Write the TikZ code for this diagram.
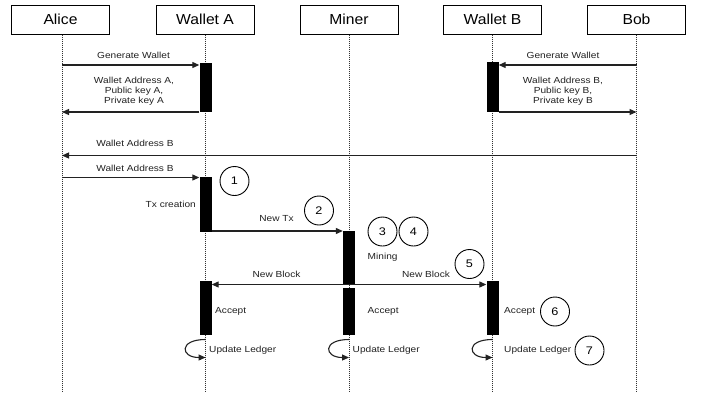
\documentclass[tikz,border=0pt]{standalone}
\usepackage{fontspec}
\setmainfont{Liberation Sans}
\newfontfamily\lblfont[FakeStretch=1.15]{Liberation Sans}
\newfontfamily\hdrfont[FakeStretch=1.08]{Liberation Sans}
\usetikzlibrary{arrows.meta}
\definecolor{ink}{HTML}{222222}
\begin{document}
\begin{tikzpicture}[x=1pt,y=-1pt,
  actor/.style={draw=black, line width=1pt, minimum width=98pt, minimum height=29pt, inner sep=0pt, font=\hdrfont\fontsize{14.5}{16}\selectfont},
  life/.style={line width=0.7pt, dash pattern=on 1pt off 1pt, black!80},
  actbar/.style={fill=black, draw=none, inner sep=0pt, minimum width=12pt},
  msg/.style={-{Triangle[length=7pt,width=6pt]}, line width=1.2pt, ink},
  lbl/.style={font=\lblfont\fontsize{8.8}{10}\selectfont, text=ink, inner sep=0pt, align=center},
  num/.style={circle, draw=black, line width=0.9pt, minimum size=29pt, inner sep=0pt, font=\lblfont\fontsize{11}{12}\selectfont}
]
\useasboundingbox[fill=white] (0,0) rectangle (705,392);

% actors
\node[actor] (alice) at (60.5,19.5) {Alice};
\node[actor] (wa) at (205,19.5) {Wallet A};
\node[actor] (mi) at (349,19.5) {Miner};
\node[actor] (wb) at (492.5,19.5) {Wallet B};
\node[actor] (bob) at (636.5,19.5) {Bob};

% lifeline ends
\coordinate (aliceE) at (62,392);
\coordinate (waE) at (205.5,392);
\coordinate (miE) at (349,392);
\coordinate (wbE) at (492.5,392);
\coordinate (bobE) at (636.5,392);
\draw[life] (aliceE|-alice.south) -- (aliceE);
\draw[life] (waE|-wa.south) -- (waE);
\draw[life] (miE|-mi.south) -- (miE);
\draw[life] (wbE|-wb.south) -- (wbE);
\draw[life] (bobE|-bob.south) -- (bobE);

% activation bars
\node[actbar, minimum height=49pt] (wa1) at (205.5,87.5) {};
\node[actbar, minimum height=50pt] (wb1) at (492.5,87) {};
\node[actbar, minimum height=55pt] (wa2) at (205.5,204.5) {};
\node[actbar, minimum height=53.5pt] (mi1) at (349,257.75) {};
\node[actbar, minimum height=47pt] (mi2) at (349,311.5) {};
\node[actbar, minimum height=54pt] (wa3) at (205.5,308) {};
\node[actbar, minimum height=54pt] (wb3) at (492.5,308) {};

% message anchor rows
\coordinate (r1) at (0,65);
\coordinate (r2) at (0,112);
\coordinate (r3) at (0,155.5);
\coordinate (r4) at (0,177.5);
\coordinate (r5) at (0,231);
\coordinate (r6) at (0,284.5);

% wallet generation
\draw[msg] (aliceE|-r1) -- (wa1.west|-r1);
\node[lbl] (l1) at (133.5,55) {Generate Wallet};
\draw[msg] (wa1.west|-r2) -- (aliceE|-r2);
\node[lbl] (l2) at (134,91) {Wallet Address A,\\Public key A,\\Private key A};

\draw[msg] (bobE|-r1) -- (wb1.east|-r1);
\node[lbl] (l3) at (563,55) {Generate Wallet};
\draw[msg] (wb1.east|-r2) -- (bobE|-r2);
\node[lbl] (l4) at (563,91) {Wallet Address B,\\Public key B,\\Private key B};

% address exchange
\draw[msg] (bobE|-r3) -- (aliceE|-r3);
\node[lbl] (l5) at (135,143) {Wallet Address B};
\draw[msg] (aliceE|-r4) -- (wa2.west|-r4);
\node[lbl] (l6) at (135,168.5) {Wallet Address B};
\node[lbl, anchor=east] (l7) at (196,204) {Tx creation};
\node[num] (c1) at (234.5,181) {1};

% new tx
\draw[msg] (wa2.east|-r5) -- (mi1.west|-r5);
\node[lbl] (l8) at (276.5,219) {New Tx};
\node[num] (c2) at (319,210.5) {2};
\node[num] (c3) at (382.5,231.5) {3};
\node[num] (c4) at (413.5,231.5) {4};
\node[lbl, anchor=west] (l9) at (367.5,257) {Mining};

% new block
\draw[msg] (miE|-r6) -- (wa3.east|-r6);
\draw[msg] (miE|-r6) -- (wb3.west|-r6);
\node[lbl] (l10) at (276.5,274) {New Block};
\node[lbl] (l11) at (426,274) {New Block};
\node[num] (c5) at (469.5,264) {5};

% accept
\node[lbl, anchor=west] (l12) at (215,311.5) {Accept};
\node[lbl, anchor=west] (l13) at (367.5,311.5) {Accept};
\node[lbl, anchor=west] (l14) at (504,311.5) {Accept};
\node[num] (c6) at (555,311.5) {6};

% update ledger loops
\foreach \n/\x in {a/205.5, b/349, c/492.5}{
  \coordinate (s\n) at (\x,339.5);
  \coordinate (e\n) at (\x,357.5);
  \draw[msg, line width=1.1pt] (s\n) .. controls ([xshift=-27pt]s\n) and ([xshift=-25pt]e\n) .. (e\n);
}
\node[lbl, anchor=west] (l15) at (209,350.5) {Update Ledger};
\node[lbl, anchor=west] (l16) at (352.5,350.5) {Update Ledger};
\node[lbl, anchor=west] (l17) at (504,350.5) {Update Ledger};
\node[num] (c7) at (589.5,350.5) {7};
\end{tikzpicture}
\end{document}
